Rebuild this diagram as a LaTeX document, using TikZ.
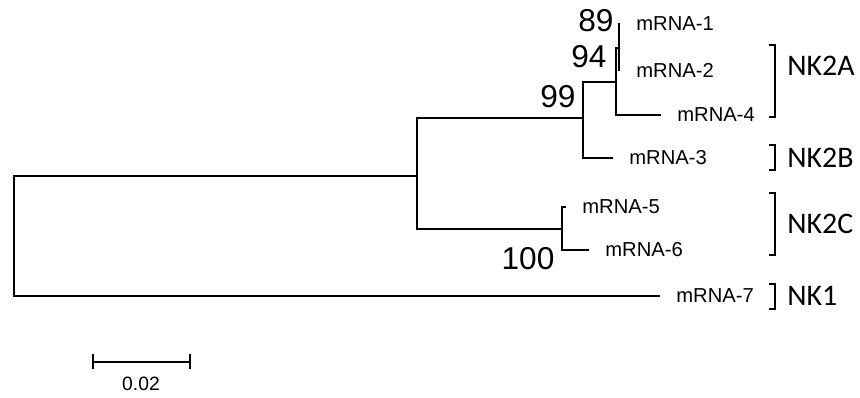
\documentclass[tikz,border=0pt]{standalone}
\usepackage{fontspec}
\setmainfont{Liberation Sans}
\newfontfamily\nkfont{Carlito}
\usepackage{tikz}

\begin{document}
\begin{tikzpicture}[x=0.02cm,y=-0.02cm,
	branch/.style={line width=0.85pt},
	leaf/.style={anchor=west,inner sep=0pt,xshift=0.32cm,font=\fontsize{11.5}{13}\selectfont},
	boot/.style={inner sep=0pt,font=\fontsize{18}{20}\selectfont},
	brk/.style={line width=1.7pt},
	clade/.style={anchor=west,inner sep=0pt,font=\nkfont\fontsize{17}{19}\selectfont}]
	\useasboundingbox (0,0) rectangle (860,398);
	
	% 内部节点
	\coordinate (root) at (14,236);
	\coordinate (nA) at (417,176);
	\coordinate (nB) at (583,118);
	\coordinate (nC) at (562,229);
	\coordinate (nD) at (616,82);
	\coordinate (nE) at (619,48);
	% 叶节点
	\coordinate (t1) at (620,24);
	\coordinate (t2) at (620,70);
	\coordinate (t4) at (661,115);
	\coordinate (t3) at (613,158);
	\coordinate (t5) at (566,207);
	\coordinate (t6) at (589,250);
	\coordinate (t7) at (660,296);
	
	% 绘制分支
	\draw[branch] (root) |- (nA);
	\draw[branch] (root) |- (t7);
	\draw[branch] (nA) |- (nB);
	\draw[branch] (nA) |- (nC);
	\draw[branch] (nB) |- (nD);
	\draw[branch] (nB) |- (t3);
	\draw[branch] (nD) |- (nE);
	\draw[branch] (nD) |- (t4);
	\draw[branch] (nE) |- (t1);
	\draw[branch] (nE) |- (t2);
	\draw[branch] (nC) |- (t5);
	\draw[branch] (nC) |- (t6);
	
	% 叶标签
	\node[leaf] (l1) at (t1) {mRNA-1};
	\node[leaf] (l2) at (t2) {mRNA-2};
	\node[leaf] (l4) at (t4) {mRNA-4};
	\node[leaf] (l3) at (t3) {mRNA-3};
	\node[leaf] (l5) at (t5) {mRNA-5};
	\node[leaf] (l6) at (t6) {mRNA-6};
	\node[leaf] (l7) at (t7) {mRNA-7};
	
	% 自展值
	\node[boot] (b89) at (596,21) {89};
	\node[boot] (b94) at (589,57) {94};
	\node[boot] (b99) at (558,97) {99};
	\node[boot] (b100) at (528,259) {100};
	
	% 分组括号
	\draw[brk] (769,45) -- (775,45) -- (775,117) -- (769,117);
	\draw[brk] (769,145) -- (775,145) -- (775,170) -- (769,170);
	\draw[brk] (769,193) -- (775,193) -- (775,255) -- (769,255);
	\draw[brk] (769,284) -- (775,284) -- (775,309) -- (769,309);
	\node[clade] (g2a) at (787,66) {NK2A};
	\node[clade] (g2b) at (787,158) {NK2B};
	\node[clade] (g2c) at (787,224) {NK2C};
	\node[clade] (g1) at (787,296) {NK1};
	
	% 标尺
	\coordinate (s0) at (93,362);
	\coordinate (s1) at (190,362);
	\draw[line width=1.1pt] (s0) -- (s1);
	\draw[line width=1.1pt] ([yshift=0.15cm]s0) -- ([yshift=-0.15cm]s0);
	\draw[line width=1.1pt] ([yshift=0.15cm]s1) -- ([yshift=-0.15cm]s1);
	\node[inner sep=0pt,font=\fontsize{11}{13}\selectfont] (sl) at (141,384) {0.02};
\end{tikzpicture}
\end{document}
